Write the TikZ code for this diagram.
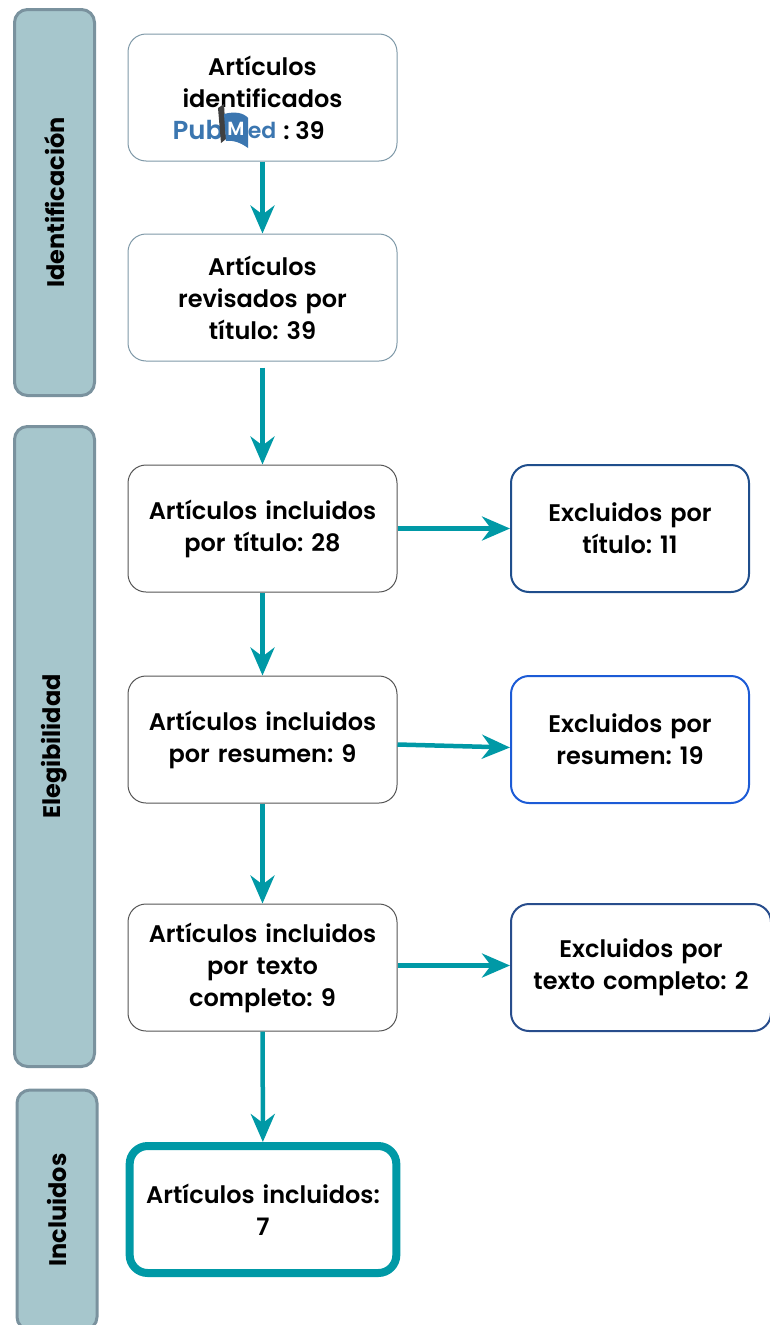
\documentclass[tikz,border=0pt]{standalone}
\usepackage{fontspec}
\setmainfont{Poppins}[BoldFont={Poppins SemiBold}]
\newfontfamily\barfont{Poppins Bold}
\frenchspacing
\usetikzlibrary{arrows.meta}
\definecolor{flowteal}{HTML}{0099A6}
\definecolor{barfill}{HTML}{A6C6CC}
\definecolor{barline}{HTML}{7A929E}
\definecolor{idline}{HTML}{7F99A8}
\definecolor{incline}{HTML}{555555}
\definecolor{exca}{HTML}{1F4E8C}
\definecolor{excb}{HTML}{1C5BD6}
\definecolor{excc}{HTML}{284D8C}
\definecolor{pubblue}{HTML}{3B76B0}

\begin{document}
\begin{tikzpicture}[x=1pt,y=-1pt,
	bar/.style={draw=barline,fill=barfill,line width=3pt,rounded corners=13pt,rotate=90,minimum height=80pt,font=\barfont\fontsize{24}{28}\selectfont},
	box/.style={draw=#1,line width=1pt,rounded corners=18pt,fill=white,minimum width=269pt,minimum height=127pt,text width=260pt,align=center,font=\bfseries\fontsize{24}{32}\selectfont},
	flow/.style={line width=4.5pt,flowteal,-{Stealth[length=28pt,width=24pt,inset=9pt]}}]
\useasboundingbox (0,0) rectangle (769,1325);

\node[bar,minimum width=386pt] (barid) at (54.5,202.5) {Identificación};
\node[bar,minimum width=640pt] (barel) at (54.5,746.5) {Elegibilidad};
\node[bar,minimum width=240pt] (barinc) at (57,1210) {Incluidos};

\node[box=idline] (idbox) at (262.5,97.5) {};
\node[font=\bfseries\fontsize{24}{32}\selectfont,align=center] (idtxt) at (262.5,82) {Artículos\\identificados};
\node[font=\bfseries\fontsize{26}{28}\selectfont,pubblue,inner sep=0pt] (pub) at (198,130) {Pub};
\fill[black!75] (218,108) -- (224,104) -- (226,139) -- (221,143) -- cycle;
\fill[pubblue] (224,114) .. controls (235,111) and (244,113) .. (248,118) -- (248,148) .. controls (240,142) and (232,140) .. (226,141) -- cycle;
\node[font=\bfseries\fontsize{19}{20}\selectfont,white,inner sep=0pt] (pubm) at (236,129) {M};
\node[font=\bfseries\fontsize{22}{24}\selectfont,pubblue,inner sep=0pt] (pubed) at (262,130) {ed};
\node[font=\bfseries\fontsize{24}{28}\selectfont,inner sep=0pt] (idnum) at (304,131) {: 39};

\node[box=idline] (titbox) at (262.5,297.5) {Artículos\\revisados por\\título: 39};
\node[box=incline] (inctit) at (262.5,528.5) {Artículos incluidos\\por título: 28};
\node[box=incline] (incres) at (262.5,739.5) {Artículos incluidos\\por resumen: 9};
\node[box=incline] (inctex) at (262.5,967.5) {Artículos incluidos\\por texto\\completo: 9};
\node[box=flowteal,line width=8pt,minimum width=264pt] (incfin) at (263,1209.5) {Artículos incluidos:\\7};

\node[box=exca,line width=2pt,minimum width=238pt,text width=230pt] (exctit) at (630,528.5) {Excluidos por\\título: 11};
\node[box=excb,line width=2pt,minimum width=238pt,text width=230pt] (excres) at (630,739.5) {Excluidos por\\resumen: 19};
\node[box=excc,line width=2pt,minimum width=260pt,text width=250pt] (exctex) at (641,967.5) {Excluidos por\\texto completo: 2};

\foreach \a/\b in {idbox/titbox,inctit/incres,incres/inctex,inctex/incfin}
	\draw[flow] (\a) -- (\b);
\draw[flow,shorten <=6pt] (titbox) -- (inctit);
\draw[flow] (inctit) -- (exctit);
\draw[flow] ([yshift=-5pt]incres.east) -- ([yshift=-8pt]excres.west);
\draw[flow] ([yshift=2pt]inctex.east) -- ([yshift=2pt]exctex.west);
\end{tikzpicture}
\end{document}
